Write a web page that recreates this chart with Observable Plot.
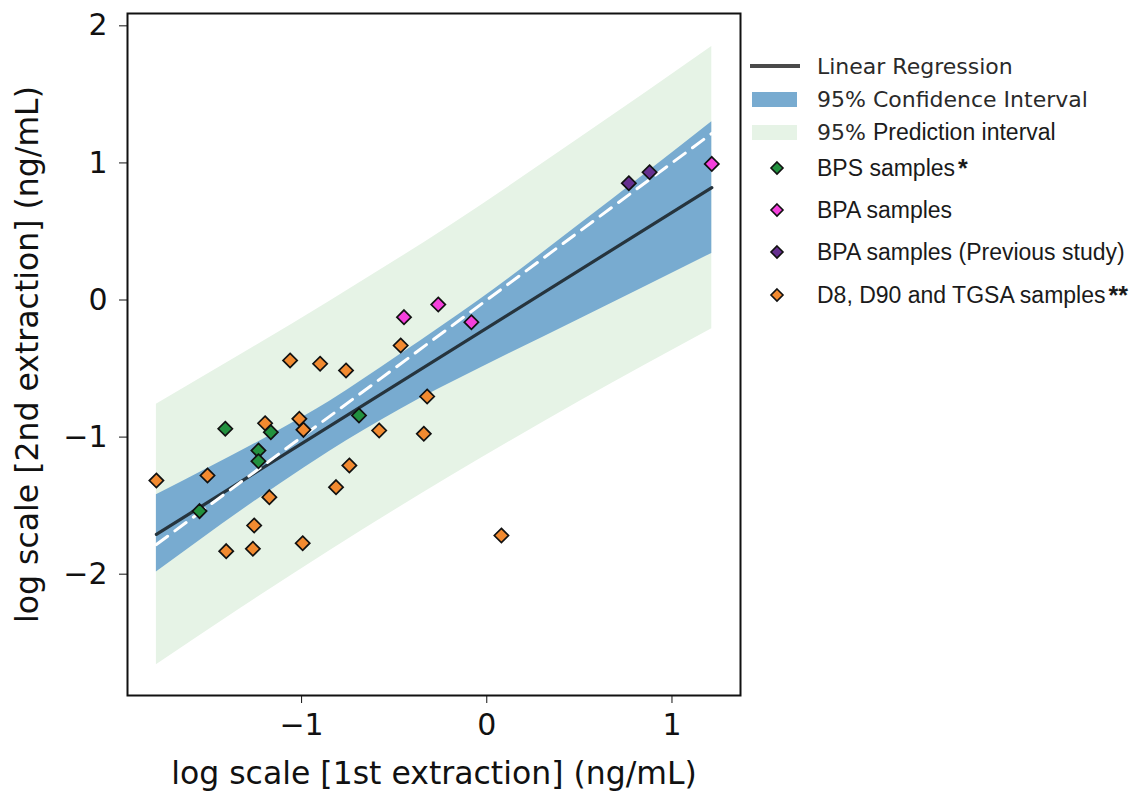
<!DOCTYPE html>
<html>
<head>
<meta charset="utf-8">
<script src="https://cdn.jsdelivr.net/npm/d3@7"></script>
<script src="https://cdn.jsdelivr.net/npm/@observablehq/plot@0.6"></script>
<style>
  body { margin: 0; background: #fff; }
  #wrap { position: relative; width: 1140px; height: 795px; overflow: hidden; background: #fff; }
  #chart { position: absolute; left: 0; top: 0; }
  #chart [aria-label="x-axis label"], #chart [aria-label="y-axis label"] { font-size: 31.5px; }
  .row { position: absolute; left: 748px; height: 34px; display: flex; align-items: center; white-space: nowrap; color: #1a1a1a; }
  .row svg { flex: none; width: 69px; height: 34px; }
  .dv { font-family: "DejaVu Sans", sans-serif; font-size: 22px; color: #2a2a2a; }
  .ar { font-family: "Liberation Sans", Arial, sans-serif; font-size: 23px; }
  .star { font-weight: bold; font-family: "Liberation Sans", Arial, sans-serif; font-size: 25px; margin-left: 3px; }
</style>
</head>
<body>
<div id="wrap">
  <div id="chart"></div>
  <div id="legend"></div>
</div>
<script>
// ---- tick values ----
const xTicks = [-1, 0, 1];
const yTicks = [-2, -1, 0, 1, 2];

// ---- sample groups (log10 concentrations) ----
const bpsX = [-1.412, -1.166, -1.233, -1.233, -1.551, -0.690];
const bpsY = [-0.939, -0.964, -1.098, -1.176, -1.540, -0.842];

const bpaX = [-0.447, -0.262, -0.083, 1.215];
const bpaY = [-0.125, -0.033, -0.162, 0.993];

const bpaPrevX = [0.767, 0.879];
const bpaPrevY = [0.852, 0.932];

const dX = [-1.062, -0.900, -1.197, -1.012, -0.990, -1.784, -1.508, -1.174, -1.256, -1.407,
            -1.263, -0.994, -0.760, -0.465, -0.322, -0.581, -0.340, -0.742, -0.814, 0.079];
const dY = [-0.441, -0.465, -0.899, -0.867, -0.947, -1.317, -1.280, -1.438, -1.645, -1.832,
            -1.815, -1.774, -0.514, -0.332, -0.704, -0.952, -0.976, -1.207, -1.365, -1.718];

// ---- fitted regression line (end points) ----
const regX = [-1.784, 1.215];
const regY = [-1.71, 0.82];

// ---- 1:1 reference line ----
const idX = [-1.784, 1.215];
const idY = [-1.784, 1.215];

// ---- 95% confidence band ----
const ciX  = [-1.784, -1.12, -0.85, -0.47, -0.04, 0.50, 1.215];
const ciLo = [-1.985, -1.345, -1.105, -0.80, -0.50, -0.14, 0.34];
const ciHi = [-1.42, -0.95, -0.74, -0.40, 0.00, 0.55, 1.30];

// ---- 95% prediction band ----
const piX  = [-1.784, -1.33, -0.85, -0.20, 0.50, 1.215];
const piLo = [-2.66, -2.25, -1.83, -1.29, -0.74, -0.21];
const piHi = [-0.76, -0.40, -0.01, 0.54, 1.18, 1.85];

// ---- legend ----
const legendLabels = [
  "Linear Regression",
  "95% Confidence Interval",
  "95% Prediction interval",
  "BPS samples",
  "BPA samples",
  "BPA samples (Previous study)",
  "D8, D90 and TGSA samples"
];
const legendStars = ["", "", "", "*", "", "", "**"];

const colors = {
  bps: "#22913f",
  bpa: "#f540dc",
  prev: "#66308f",
  d: "#f28a30",
  ci: "#78abd0",
  pi: "#e6f3e6",
  reg: "#26343d"
};

const zipXY = (xs, ys) => xs.map((x, i) => ({x, y: ys[i]}));
const band = (xs, lo, hi) => xs.map((x, i) => ({x, lo: lo[i], hi: hi[i]}));
const fmt = d => (d < 0 ? "\u2212" + Math.abs(d) : String(d));

const dotStyle = {x: "x", y: "y", symbol: "diamond2", r: 6.4, stroke: "#111", strokeWidth: 1.7};

const chart = Plot.plot({
  width: 760,
  height: 795,
  marginLeft: 127,
  marginRight: 20,
  marginTop: 13,
  marginBottom: 100,
  style: {fontFamily: "DejaVu Sans, sans-serif", fontSize: "30px", color: "#111", background: "transparent"},
  x: {domain: [-1.94, 1.37]},
  y: {domain: [-2.885, 2.09]},
  marks: [
    Plot.areaY(band(piX, piLo, piHi), {x: "x", y1: "lo", y2: "hi", fill: colors.pi, curve: "monotone-x"}),
    Plot.areaY(band(ciX, ciLo, ciHi), {x: "x", y1: "lo", y2: "hi", fill: colors.ci, curve: "monotone-x"}),
    Plot.line(zipXY(regX, regY), {x: "x", y: "y", stroke: colors.reg, strokeWidth: 3.2}),
    Plot.line(zipXY(idX, idY), {x: "x", y: "y", stroke: "#fff", strokeWidth: 3, strokeDasharray: "14,9"}),
    Plot.dot(zipXY(dX, dY), {...dotStyle, fill: colors.d}),
    Plot.dot(zipXY(bpsX, bpsY), {...dotStyle, fill: colors.bps}),
    Plot.dot(zipXY(bpaX, bpaY), {...dotStyle, fill: colors.bpa}),
    Plot.dot(zipXY(bpaPrevX, bpaPrevY), {...dotStyle, fill: colors.prev}),
    Plot.frame({stroke: "#111", strokeWidth: 2}),
    Plot.axisX({
      ticks: xTicks, tickFormat: fmt, tickSize: 8, tickPadding: 10, fontSize: 30,
      label: "log scale [1st extraction] (ng/mL)", labelAnchor: "center", labelOffset: 88, labelArrow: "none"
    }),
    Plot.axisY({
      ticks: yTicks, tickFormat: fmt, tickSize: 8, tickPadding: 12, fontSize: 30,
      label: "log scale [2nd extraction] (ng/mL)", labelAnchor: "center", labelOffset: 112, labelArrow: "none"
    })
  ]
});
document.getElementById("chart").append(chart);

// ---- legend rows ----
const legendKinds = ["line", "ci", "pi", "bps", "bpa", "prev", "d"];
const legendCenters = [66, 99, 132, 168, 210, 252, 295];
const legend = document.getElementById("legend");
legendKinds.forEach((kind, i) => {
  const row = document.createElement("div");
  row.className = "row";
  row.style.top = (legendCenters[i] - 17) + "px";
  const svg = d3.create("svg");
  if (kind === "line") {
    svg.append("line").attr("x1", 2).attr("x2", 52).attr("y1", 17).attr("y2", 17)
      .attr("stroke", "#4a4a4a").attr("stroke-width", 4);
  } else if (kind === "ci" || kind === "pi") {
    svg.append("rect").attr("x", 4).attr("y", 10).attr("width", 45).attr("height", 15)
      .attr("fill", kind === "ci" ? colors.ci : colors.pi);
  } else {
    const r = 6;
    svg.append("path")
      .attr("d", `M29,${17 - r}L${29 + r},17L29,${17 + r}L${29 - r},17Z`)
      .attr("fill", colors[kind]).attr("stroke", "#111").attr("stroke-width", 1.6);
  }
  row.append(svg.node());
  const label = legendLabels[i];
  if (i < 2) {
    const s = document.createElement("span");
    s.className = "dv";
    s.textContent = label;
    row.append(s);
  } else if (i === 2) {
    const a = document.createElement("span");
    a.className = "dv";
    a.textContent = label.slice(0, 3);
    const b = document.createElement("span");
    b.className = "ar";
    b.style.marginLeft = "7px";
    b.textContent = label.slice(4);
    row.append(a, b);
  } else {
    const s = document.createElement("span");
    s.className = "ar";
    s.textContent = label;
    row.append(s);
    if (legendStars[i]) {
      const st = document.createElement("span");
      st.className = "star";
      st.textContent = legendStars[i];
      row.append(st);
    }
  }
  legend.append(row);
});
</script>
</body>
</html>
